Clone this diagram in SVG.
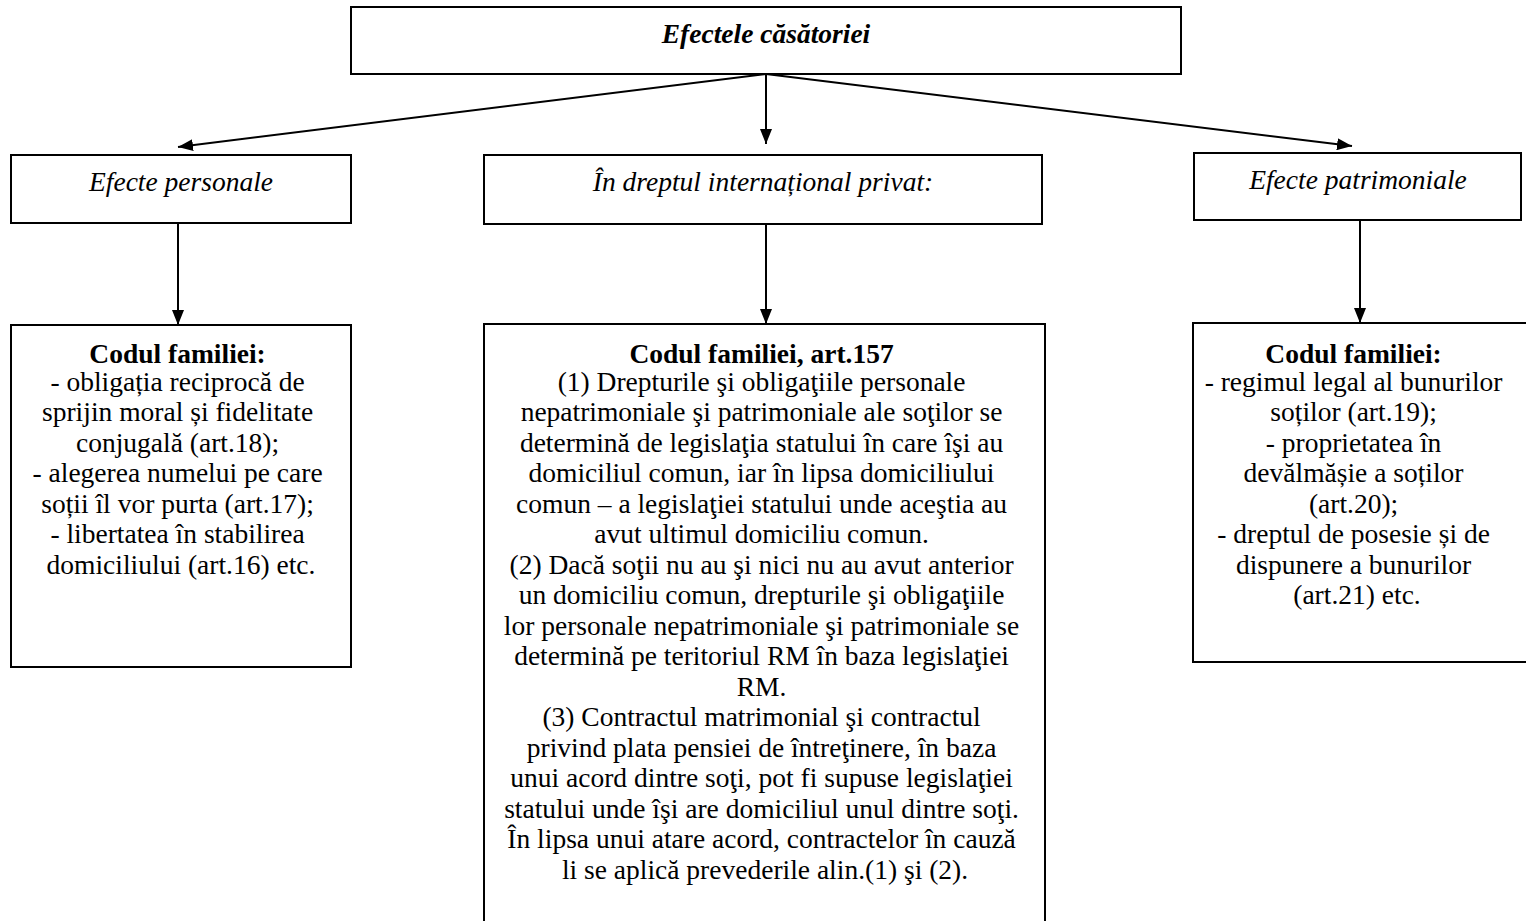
<svg xmlns="http://www.w3.org/2000/svg" width="1526" height="921" viewBox="0 0 1526 921">
<style>
.box{fill:#fff;stroke:#000;stroke-width:2}
.t{font-family:"Liberation Serif","Times New Roman",serif;font-size:27.5px;fill:#000;text-anchor:middle}
.i{font-style:italic}
.b{font-weight:bold}
.c{stroke:#000;stroke-width:2;fill:none}
</style>
<defs>
<marker id="ah" viewBox="0 0 15 12" refX="15" refY="6" markerWidth="15" markerHeight="12" markerUnits="userSpaceOnUse" orient="auto">
<path d="M0,0 L15,6 L0,12 z" fill="#000"/>
</marker>
</defs>
<rect width="1526" height="921" fill="#fff"/>
<g id="connectors">
<line class="c" x1="766" y1="74" x2="178" y2="147" marker-end="url(#ah)"/>
<line class="c" x1="766" y1="74" x2="766" y2="144" marker-end="url(#ah)"/>
<line class="c" x1="766" y1="74" x2="1352" y2="146" marker-end="url(#ah)"/>
<line class="c" x1="178" y1="223" x2="178" y2="325" marker-end="url(#ah)"/>
<line class="c" x1="766" y1="224" x2="766" y2="324" marker-end="url(#ah)"/>
<line class="c" x1="1360" y1="220" x2="1360" y2="323" marker-end="url(#ah)"/>
</g>
<g id="top">
<rect class="box" x="351" y="7" width="830" height="67"/>
<text class="t i b" x="766" y="43">Efectele căsătoriei</text>
</g>
<g id="personal">
<rect class="box" x="11" y="155" width="340" height="68"/>
<text class="t i" x="181" y="191">Efecte personale</text>
</g>
<g id="dip">
<rect class="box" x="484" y="155" width="558" height="69"/>
<text class="t i" x="763" y="191">În dreptul internațional privat:</text>
</g>
<g id="patrimonial">
<rect class="box" x="1194" y="153" width="327" height="67"/>
<text class="t i" x="1358" y="189">Efecte patrimoniale</text>
</g>
<g id="cf-personal">
<rect class="box" x="11" y="325" width="340" height="342"/>
<text class="t" x="181">
<tspan class="b" x="181" y="363">Codul familiei:</tspan>
<tspan x="181" y="391">- obligația reciprocă de</tspan>
<tspan x="181" y="421">sprijin moral și fidelitate</tspan>
<tspan x="181" y="452">conjugală (art.18);</tspan>
<tspan x="181" y="482">- alegerea numelui pe care</tspan>
<tspan x="181" y="513">soții îl vor purta (art.17);</tspan>
<tspan x="181" y="543">- libertatea în stabilirea</tspan>
<tspan x="181" y="574">domiciliului (art.16) etc.</tspan>
</text>
</g>
<g id="cf-art157">
<rect class="box" x="484" y="324" width="561" height="610"/>
<text class="t" x="765">
<tspan class="b" x="765" y="363">Codul familiei, art.157</tspan>
<tspan x="765" y="391">(1) Drepturile şi obligaţiile personale</tspan>
<tspan x="765" y="421">nepatrimoniale şi patrimoniale ale soţilor se</tspan>
<tspan x="765" y="452">determină de legislaţia statului în care îşi au</tspan>
<tspan x="765" y="482">domiciliul comun, iar în lipsa domiciliului</tspan>
<tspan x="765" y="513">comun – a legislaţiei statului unde aceştia au</tspan>
<tspan x="765" y="543">avut ultimul domiciliu comun.</tspan>
<tspan x="765" y="574">(2) Dacă soţii nu au şi nici nu au avut anterior</tspan>
<tspan x="765" y="604">un domiciliu comun, drepturile şi obligaţiile</tspan>
<tspan x="765" y="635">lor personale nepatrimoniale şi patrimoniale se</tspan>
<tspan x="765" y="665">determină pe teritoriul RM în baza legislaţiei</tspan>
<tspan x="765" y="696">RM.</tspan>
<tspan x="765" y="726">(3) Contractul matrimonial şi contractul</tspan>
<tspan x="765" y="757">privind plata pensiei de întreţinere, în baza</tspan>
<tspan x="765" y="787">unui acord dintre soţi, pot fi supuse legislaţiei</tspan>
<tspan x="765" y="818">statului unde îşi are domiciliul unul dintre soţi.</tspan>
<tspan x="765" y="848">În lipsa unui atare acord, contractelor în cauză</tspan>
<tspan x="765" y="879">li se aplică prevederile alin.(1) şi (2).</tspan>
</text>
</g>
<g id="cf-patrimonial">
<rect class="box" x="1193" y="323" width="340" height="339"/>
<text class="t" x="1357">
<tspan class="b" x="1357" y="363">Codul familiei:</tspan>
<tspan x="1357" y="391">- regimul legal al bunurilor</tspan>
<tspan x="1357" y="421">soților (art.19);</tspan>
<tspan x="1357" y="452">- proprietatea în</tspan>
<tspan x="1357" y="482">devălmășie a soților</tspan>
<tspan x="1357" y="513">(art.20);</tspan>
<tspan x="1357" y="543">- dreptul de posesie și de</tspan>
<tspan x="1357" y="574">dispunere a bunurilor</tspan>
<tspan x="1357" y="604">(art.21) etc.</tspan>
</text>
</g>
</svg>
